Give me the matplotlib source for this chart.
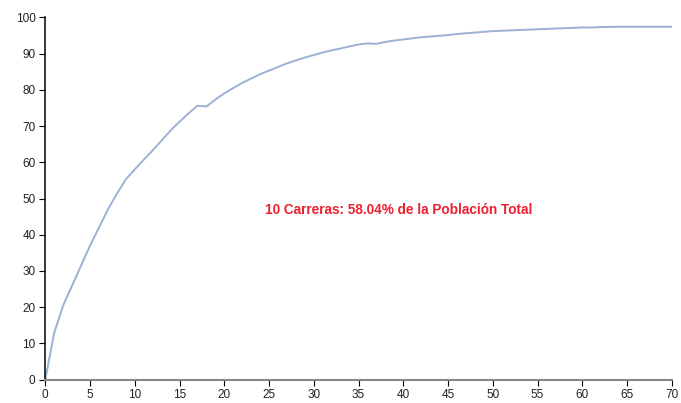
import matplotlib.pyplot as plt
import numpy as np

plt.rcParams['font.family'] = ['Liberation Sans', 'DejaVu Sans']

# numero de carreras vs porcentaje acumulado de la poblacion
carreras = np.arange(0, 71)
porcentaje = [0, 13, 20.5, 26, 31.5, 37, 42, 47, 51.3, 55.3,
              58.04, 60.7, 63.3, 66, 68.8, 71.2, 73.5, 75.6, 75.4, 77.3,
              79, 80.5, 81.9, 83.1, 84.3, 85.3, 86.3, 87.3, 88.1, 88.9,
              89.6, 90.3, 90.9, 91.4, 92.0, 92.5, 92.8, 92.7, 93.2, 93.6,
              93.9, 94.2, 94.5, 94.7, 94.9, 95.1, 95.4, 95.6, 95.8, 96.0,
              96.2, 96.3, 96.4, 96.5, 96.6, 96.7, 96.8, 96.9, 97.0, 97.1,
              97.2, 97.2, 97.3, 97.35, 97.4, 97.4, 97.4, 97.4, 97.4, 97.4,
              97.4]
nota = '10 Carreras: 58.04% de la Población Total'

fig = plt.figure(figsize=(6.81, 4.03), dpi=100)
ax = fig.add_axes([0.0665, 0.0578, 0.92, 0.8992])

ax.plot(carreras, porcentaje, color='#9db0d6', lw=1.4)
ax.text(39.5, 46.8, nota, color='#ee2030', fontsize=9.8, fontweight='bold',
        ha='center', va='center')

ax.set_xlim(0, 70)
ax.set_ylim(0, 100)
ax.set_xticks(range(0, 71, 5))
ax.set_yticks(range(0, 101, 10))
for s in ['top', 'right']:
    ax.spines[s].set_visible(False)
ax.spines['left'].set_color('black')
ax.spines['left'].set_linewidth(1.1)
ax.spines['bottom'].set_color('#888888')
ax.spines['bottom'].set_linewidth(1.5)
ax.tick_params(axis='both', direction='out', length=4, width=0.8,
               labelsize=8.5, colors='black', labelcolor='#222222', pad=3)

fig.savefig('out.png', dpi=100)
